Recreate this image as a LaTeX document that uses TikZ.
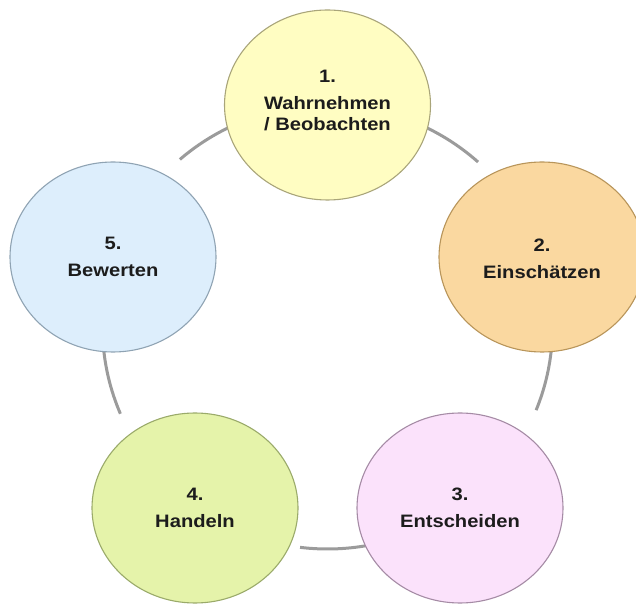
\documentclass[tikz,border=0pt]{standalone}
\usepackage{fontspec}
\setmainfont[FakeStretch=1.12]{Liberation Sans}
\usetikzlibrary{shapes.geometric,calc}
\definecolor{fillA}{HTML}{FFFDC2}
\definecolor{lineA}{HTML}{A9A57A}
\definecolor{fillB}{HTML}{FAD8A0}
\definecolor{lineB}{HTML}{B8955A}
\definecolor{fillC}{HTML}{FBE2FB}
\definecolor{lineC}{HTML}{A58BA5}
\definecolor{fillD}{HTML}{E5F3AA}
\definecolor{lineD}{HTML}{9AAA6A}
\definecolor{fillE}{HTML}{DDEEFC}
\definecolor{lineE}{HTML}{8FA3B3}
\definecolor{ringgray}{HTML}{9B9B9B}
\definecolor{txtcol}{HTML}{1C1C1C}
\tikzset{
  bubble/.style={ellipse, minimum width=206pt, minimum height=190pt, inner sep=0pt, line width=1.1pt},
  txt/.style={align=center, inner sep=0pt, text=txtcol, font=\fontsize{18}{21}\selectfont\bfseries},
  ringarc/.style={draw=ringgray, line width=3pt}
}
\begin{document}
\begin{tikzpicture}[x=1pt,y=1pt]
\useasboundingbox (0,0) rectangle (636,607);
\coordinate (o) at (327.5,280);
% ring segments
\draw[ringarc] ($(o)+(48:225 and 222)$) arc[start angle=48, end angle=68, x radius=225, y radius=222];
\draw[ringarc] ($(o)+(-22:225 and 222)$) arc[start angle=-22, end angle=-3, x radius=225, y radius=222];
\draw[ringarc] ($(o)+(-97:225 and 222)$) arc[start angle=-97, end angle=-78, x radius=225, y radius=222];
\draw[ringarc] ($(o)+(183:225 and 222)$) arc[start angle=183, end angle=203, x radius=225, y radius=222];
\draw[ringarc] ($(o)+(112:225 and 222)$) arc[start angle=112, end angle=131, x radius=225, y radius=222];
% circles
\node[bubble, fill=fillA, draw=lineA] (c1) at (327.5,502) {};
\node[bubble, fill=fillB, draw=lineB] (c2) at (542,350) {};
\node[bubble, fill=fillC, draw=lineC] (c3) at (460,99) {};
\node[bubble, fill=fillD, draw=lineD] (c4) at (195,99) {};
\node[bubble, fill=fillE, draw=lineE] (c5) at (113,350) {};
% texts
\node[txt] (t1) at ([yshift=5]c1.center) {1.\\[6pt]Wahrnehmen\\/ Beobachten};
\node[txt] (t2) at ([yshift=-2]c2.center) {2.\\[6pt]Einschätzen};
\node[txt] (t3) at (c3.center) {3.\\[6pt]Entscheiden};
\node[txt] (t4) at (c4.center) {4.\\[6pt]Handeln};
\node[txt] (t5) at (c5.center) {5.\\[6pt]Bewerten};
\end{tikzpicture}
\end{document}
